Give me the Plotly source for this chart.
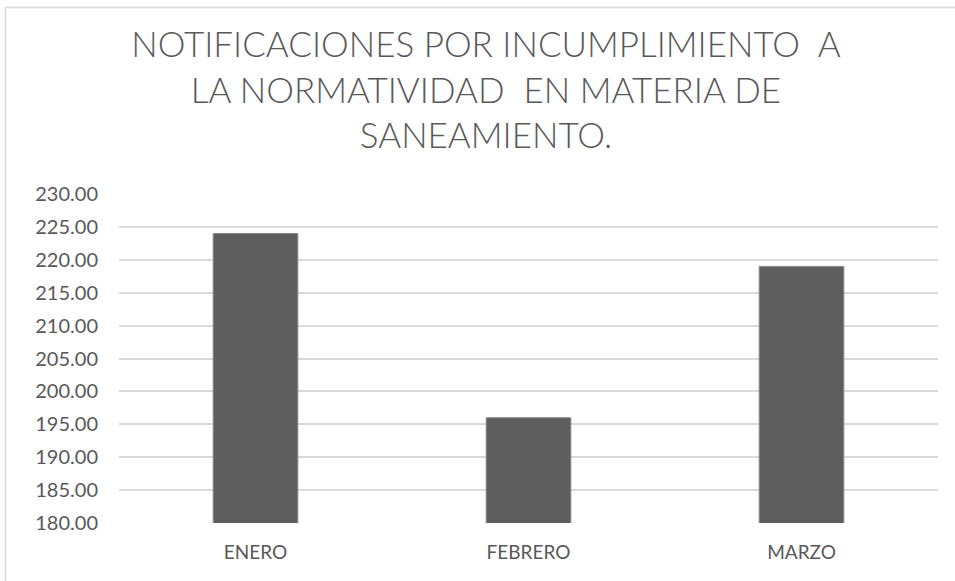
import plotly.graph_objects as go

categories = ["ENERO", "FEBRERO", "MARZO"]
values = [224, 196, 219]
tick_vals = [180, 185, 190, 195, 200, 205, 210, 215, 220, 225, 230]
title_text = "NOTIFICACIONES POR INCUMPLIMIENTO  A<br>LA NORMATIVIDAD  EN MATERIA DE<br>SANEAMIENTO."

W, H = 955, 581
L, R, T, B = 119, 17, 194, 58
fig = go.Figure(go.Bar(
    x=categories, y=values,
    width=0.31,
    marker=dict(color="#5e5e5e", line=dict(color="#8a8a8a", width=1)),
))

fig.update_layout(
    width=W, height=H,
    paper_bgcolor="white", plot_bgcolor="white",
    margin=dict(l=L, r=R, t=T, b=B),
    showlegend=False,
    title=dict(text=title_text, x=486/W, xanchor="center", xref="container",
               y=1 - 57/H, yanchor="top", yref="container",
               font=dict(family="Lato", size=35, color="#595959", weight=300)),
    font=dict(family="Lato", color="#595959"),
)
fig.update_yaxes(range=[180, 230], tickvals=tick_vals, tickformat=".2f",
                 showgrid=True, gridcolor="#d9d9d9", gridwidth=2,
                 zeroline=False, showline=False, ticks="",
                 ticklabelstandoff=20,
                 tickfont=dict(family="Lato", size=20, color="#595959"))
fig.update_xaxes(showgrid=False, showline=False, ticks="",
                 ticklabelstandoff=16,
                 tickfont=dict(family="Lato", size=19, color="#595959"))

# chart frame border
pw, ph = W - L - R, H - T - B
fig.add_shape(type="rect", xref="paper", yref="paper",
              x0=(5.5 - L) / pw, x1=(W + 20 - L) / pw,
              y0=(-B - 30) / ph, y1=(H - 7.5 - B) / ph,
              line=dict(color="#d9d9d9", width=1.5), layer="below")

fig.write_html("out.html", config={"displayModeBar": False},
               post_script="document.body.style.margin='0';document.body.style.overflow='hidden';")
